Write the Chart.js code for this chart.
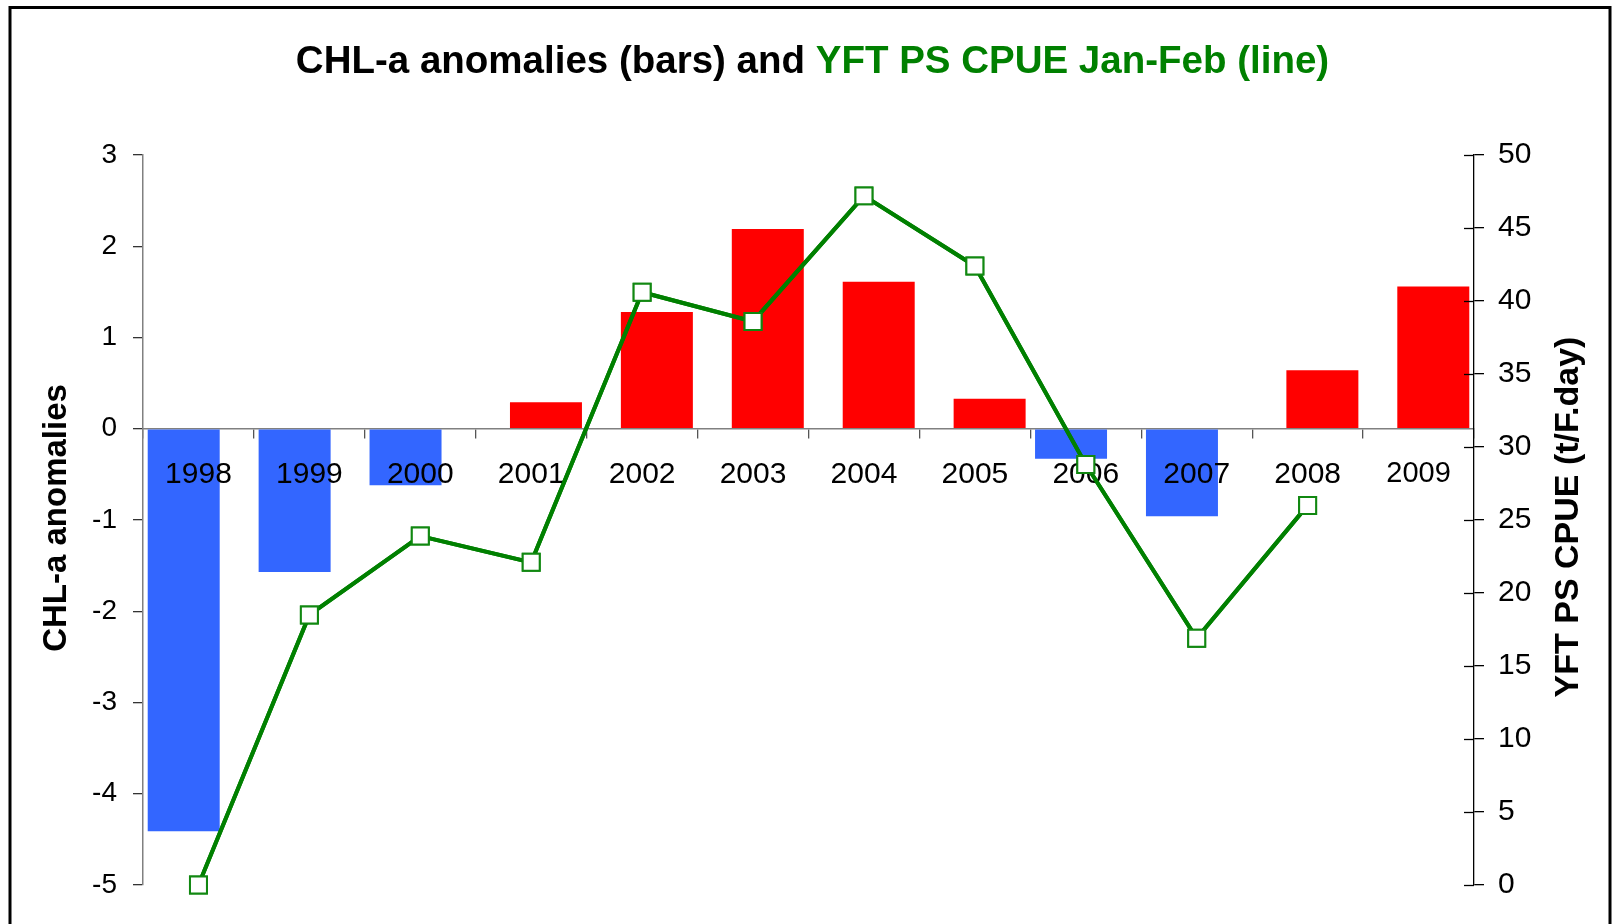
<!DOCTYPE html>
<html>
<head>
<meta charset="utf-8">
<title>CHL-a anomalies and YFT PS CPUE</title>
<script src="https://cdn.jsdelivr.net/npm/chart.js@4.4.1/dist/chart.umd.min.js"></script>
<style>
  html, body { margin:0; padding:0; background:#fff; }
  canvas { display:block; }
</style>
</head>
<body>
<canvas id="chlChart" width="1614" height="924"></canvas>
<script>
// chart data
const years = ["1998","1999","2000","2001","2002","2003","2004","2005","2006","2007","2008","2009"];
const chlAnomaly = [-4.41, -1.57, -0.62, 0.29, 1.28, 2.19, 1.61, 0.33, -0.33, -0.96, 0.64, 1.56];
const cpue = [0, 18.5, 23.9, 22.1, 40.6, 38.6, 47.2, 42.4, 28.8, 16.9, 26.0, null];

// excel drew negatives and positives as two series, so split them
const chlNeg = chlAnomaly.map(v => v < 0 ? v : null);
const chlPos = chlAnomaly.map(v => v >= 0 ? v : null);

const FONT = "'Liberation Sans', Arial, sans-serif";
Chart.defaults.font.family = FONT;
Chart.defaults.color = '#000';

// frame, title and rotated axis titles
const decor = {
  id: 'decor',
  beforeDraw(chart){
    const c = chart.ctx;
    c.save();
    c.strokeStyle = '#000';
    c.lineWidth = 3;
    c.strokeRect(10, 7.5, 1600, 940);

    // two-colour title
    c.font = 'bold 38.5px ' + FONT;
    c.textBaseline = 'alphabetic';
    const t1 = 'CHL-a anomalies (bars) and ', t2 = 'YFT PS CPUE Jan-Feb (line)';
    const w1 = c.measureText(t1).width, w2 = c.measureText(t2).width;
    const x0 = 812.5 - (w1 + w2) / 2;
    c.fillStyle = '#000';
    c.fillText(t1, x0, 73);
    c.fillStyle = '#008000';
    c.fillText(t2, x0 + w1, 73);

    // axis titles, both read bottom to top
    c.fillStyle = '#000';
    c.textAlign = 'center';
    c.font = 'bold 33px ' + FONT;
    c.translate(66, 518);
    c.rotate(-Math.PI / 2);
    c.fillText('CHL-a anomalies', 0, 0);
    c.setTransform(1, 0, 0, 1, 0, 0);
    c.font = 'bold 34px ' + FONT;
    c.translate(1578, 517);
    c.rotate(-Math.PI / 2);
    c.fillText('YFT PS CPUE (t/F.day)', 0, 0);
    c.restore();
  },
  afterDraw(chart){
    const c = chart.ctx;
    const y2 = chart.scales.y2;
    // inner half of the crossing ticks on the right axis
    c.save();
    c.strokeStyle = '#000';
    c.lineWidth = 1.3;
    y2.ticks.forEach(t => {
      const py = Math.round(y2.getPixelForValue(t.value)) + 0.5;
      c.beginPath();
      c.moveTo(y2.left - 10, py);
      c.lineTo(y2.left, py);
      c.stroke();
    });
    c.restore();
    // line sits over the year labels
    chart.getDatasetMeta(2).controller.draw();
  }
};

new Chart(document.getElementById('chlChart'), {
  type: 'bar',
  data: {
    labels: years,
    datasets: [
      { label:'CHL-a anomalies (neg)', data: chlNeg, backgroundColor:'#3366FF', yAxisID:'y', order:2,
        categoryPercentage:0.532, barPercentage:2.44 },
      { label:'CHL-a anomalies (pos)', data: chlPos, backgroundColor:'#FF0000', yAxisID:'y', order:3,
        categoryPercentage:0.532, barPercentage:2.44 },
      { type:'line', label:'YFT PS CPUE Jan-Feb', data: cpue, yAxisID:'y2', order:1,
        borderColor:'#008000', borderWidth:4, tension:0, clip:false,
        pointStyle:'rect', pointRadius:12, pointHoverRadius:12, pointBorderWidth:2,
        pointBackgroundColor:'#fff', pointBorderColor:'#118811' }
    ]
  },
  options: {
    responsive:false,
    animation:false,
    layout:{ padding:{ left:0, right:0, top:155, bottom:39 } },
    plugins:{ legend:{display:false}, tooltip:{enabled:false}, title:{display:false} },
    scales:{
      x:{
        type:'category',
        position:{ y:0 },
        offset:true,
        grid:{ drawOnChartArea:false, offset:true, tickLength:9, color:'#555', lineWidth:1.3 },
        border:{ color:'#808080', width:1.5 },
        ticks:{ z:1, font: ctx => ({ size: ctx.index === 11 ? 29 : 30 }), padding:19,
                maxRotation:0, autoSkip:false, color:'#000' }
      },
      y:{
        position:'left',
        min:-5, max:3,
        ticks:{ stepSize:1, font:{size:28}, padding:16, color:'#000' },
        grid:{ drawOnChartArea:false, tickLength:10, color:'#333', lineWidth:1.3 },
        border:{ color:'#808080', width:1.5 },
        afterFit(s){ s.width = 143; }
      },
      y2:{
        position:'right',
        min:0, max:50,
        ticks:{ stepSize:5, font:{size:30}, padding:14, color:'#000' },
        grid:{ drawOnChartArea:false, tickLength:10, color:'#000', lineWidth:1.3 },
        border:{ color:'#000', width:1.3 },
        afterFit(s){ s.width = 140; }
      }
    }
  },
  plugins:[decor]
});
</script>
</body>
</html>
